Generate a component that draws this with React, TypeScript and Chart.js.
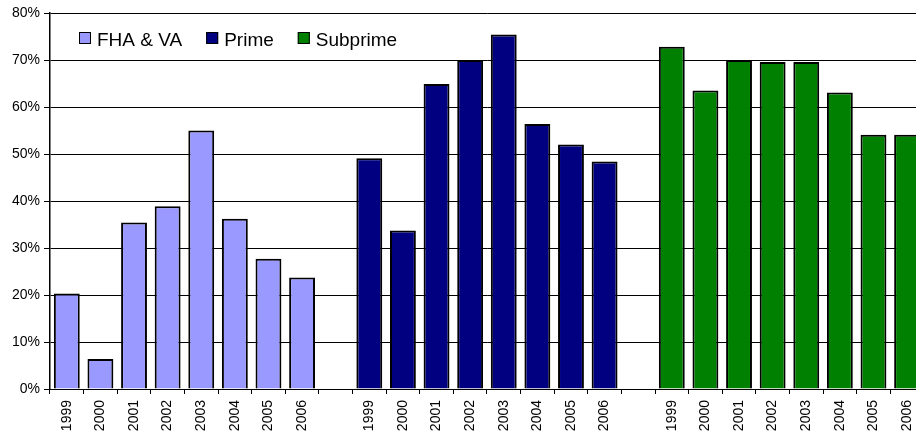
import React, { useEffect, useRef } from "react";
import { Chart, registerables } from "chart.js";

Chart.register(...registerables);

const years = ["1999", "2000", "2001", "2002", "2003", "2004", "2005", "2006"];
const seriesNames = ["FHA & VA", "Prime", "Subprime"];
const fhaValues = [20.3, 6.4, 35.4, 38.9, 55.0, 36.2, 27.7, 23.7];
const primeValues = [49.1, 33.7, 64.9, 70.0, 75.4, 56.4, 52.0, 48.4];
const subprimeValues = [72.8, 63.5, 70.0, 69.6, 69.6, 63.1, 54.1, 54.1];
const seriesColors = ["#9999FF", "#000080", "#008000"];
const yTicks = [0, 10, 20, 30, 40, 50, 60, 70, 80];

const FONT = "'Liberation Sans', Arial, sans-serif";

function blanks(n: number): (number | null)[] {
  return new Array(n).fill(null);
}

const labels = [...years, "", ...years, "", ...years];

const legendPlugin = {
  id: "insideLegend",
  afterDatasetsDraw(chart: any) {
    const ctx = chart.ctx;
    const area = chart.chartArea;
    ctx.save();
    ctx.font = `19px ${FONT}`;
    ctx.textBaseline = "alphabetic";
    ctx.textAlign = "left";
    let x = area.left + 29;
    const boxTop = area.top + 19;
    chart.data.datasets.forEach((ds: any) => {
      ctx.fillStyle = ds.backgroundColor;
      ctx.fillRect(x, boxTop, 12, 12);
      ctx.strokeStyle = "#000";
      ctx.lineWidth = 1;
      ctx.strokeRect(x + 0.5, boxTop + 0.5, 11, 11);
      ctx.fillStyle = "#000";
      ctx.fillText(ds.label, x + 18, boxTop + 14);
      const w = ctx.measureText(ds.label).width;
      x += 18 + w + 24;
    });
    ctx.restore();
  },
};

export default function App() {
  const ref = useRef<HTMLCanvasElement | null>(null);

  useEffect(() => {
    if (!ref.current) return;
    const datasets = [
      { label: seriesNames[0], data: [...fhaValues, null, ...blanks(8), null, ...blanks(8)] },
      { label: seriesNames[1], data: [...blanks(8), null, ...primeValues, null, ...blanks(8)] },
      { label: seriesNames[2], data: [...blanks(8), null, ...blanks(8), null, ...subprimeValues] },
    ].map((d, i) => ({
      ...d,
      backgroundColor: seriesColors[i],
      borderColor: "#000",
      borderWidth: 2,
      grouped: false,
      barPercentage: 0.77,
      categoryPercentage: 1,
    }));

    const chart = new Chart(ref.current, {
      type: "bar",
      data: { labels, datasets: datasets as any },
      options: {
        animation: false,
        responsive: false,
        devicePixelRatio: 1,
        layout: { padding: { top: 13, right: 6, bottom: 0, left: 0 } },
        plugins: { legend: { display: false }, tooltip: { enabled: false } },
        scales: {
          x: {
            offset: true,
            grid: {
              offset: true,
              drawOnChartArea: false,
              drawTicks: true,
              tickLength: 5,
              color: "#000",
            },
            border: { display: true, color: "#000", width: 1 },
            ticks: {
              autoSkip: false,
              minRotation: 90,
              maxRotation: 90,
              padding: 6,
              color: "#000",
              font: { family: FONT, size: 14 },
            },
            afterFit(scale: any) {
              scale.height = 47;
            },
          },
          y: {
            min: yTicks[0],
            max: yTicks[yTicks.length - 1],
            afterBuildTicks(scale: any) {
              scale.ticks = yTicks.map((v) => ({ value: v }));
            },
            grid: { color: "#000", lineWidth: 1, tickLength: 6 },
            border: { display: true, color: "#000", width: 1.5 },
            ticks: {
              padding: 4,
              color: "#000",
              font: { family: FONT, size: 14 },
              callback: (v: any) => `${v}%`,
            },
            afterFit(scale: any) {
              scale.width = 50;
            },
          },
        },
      },
      plugins: [legendPlugin],
    });
    return () => chart.destroy();
  }, []);

  return (
    <div
      style={{
        position: "fixed",
        left: 0,
        top: 0,
        width: 916,
        height: 436,
        overflow: "hidden",
        background: "#fff",
      }}
    >
      <canvas ref={ref} width={930} height={436} style={{ display: "block" }} />
    </div>
  );
}
